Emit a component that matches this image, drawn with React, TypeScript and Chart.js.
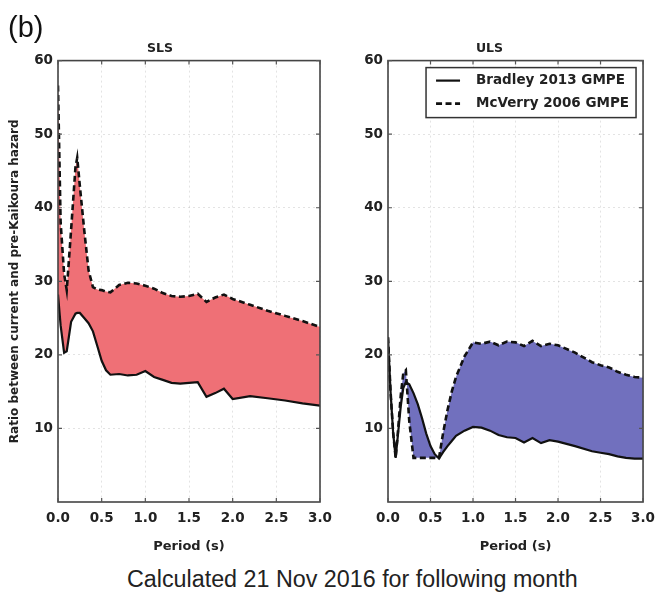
import React, { useEffect, useRef } from "react";
import { Chart, registerables } from "chart.js";
Chart.register(...registerables);

// ---------- data ----------
const slsPeriod = [0, 0.03, 0.07, 0.1, 0.15, 0.2, 0.22, 0.25, 0.3, 0.35, 0.4, 0.45, 0.5, 0.55, 0.6, 0.7, 0.8, 0.9, 1.0, 1.1, 1.2, 1.3, 1.4, 1.5, 1.6, 1.7, 1.8, 1.9, 2.0, 2.2, 2.4, 2.6, 2.8, 3.0];
const slsBradley = [28.2, 24, 20.3, 20.5, 24.5, 25.6, 25.7, 25.7, 25.0, 24.3, 23.2, 21.2, 19.2, 17.9, 17.3, 17.4, 17.2, 17.3, 17.8, 17.0, 16.6, 16.2, 16.1, 16.2, 16.3, 14.3, 14.8, 15.4, 14.0, 14.4, 14.1, 13.8, 13.4, 13.1];
const slsMcVerry = [56.6, 38, 31, 28.8, 37, 45.5, 46.8, 43, 37, 31.5, 29.2, 28.9, 28.8, 28.6, 28.5, 29.5, 29.8, 29.7, 29.4, 29.0, 28.4, 28.0, 27.9, 28.0, 28.3, 27.2, 27.8, 28.2, 27.6, 26.8, 26.0, 25.3, 24.6, 23.8];

const ulsPeriod = [0, 0.03, 0.06, 0.09, 0.12, 0.15, 0.18, 0.21, 0.25, 0.3, 0.35, 0.4, 0.45, 0.5, 0.55, 0.6, 0.65, 0.7, 0.75, 0.8, 0.9, 1.0, 1.1, 1.2, 1.3, 1.4, 1.5, 1.6, 1.7, 1.8, 1.9, 2.0, 2.2, 2.4, 2.5, 2.6, 2.7, 2.8, 2.9, 3.0];
const ulsBradley = [22.4, 15, 9.5, 6, 9.5, 13, 15.5, 16.3, 16.0, 14.8, 13.3, 11.4, 9.3, 7.6, 6.5, 5.9, 6.8, 7.6, 8.3, 9.0, 9.7, 10.2, 10.1, 9.7, 9.1, 8.8, 8.7, 8.1, 8.7, 8.0, 8.4, 8.2, 7.6, 6.9, 6.7, 6.5, 6.2, 6.0, 5.9, 5.9];
const ulsMcVerry = [22.4, 15, 9.5, 6, 10, 14.5, 17.5, 17.9, 11, 6.0, 6.0, 6.0, 6.0, 6.0, 6.0, 6.0, 9.5, 12.5, 15, 17.0, 19.8, 21.7, 21.5, 21.8, 21.3, 21.8, 21.7, 21.2, 21.9, 21.2, 21.5, 21.3, 20.3, 19.0, 18.6, 18.3, 17.7, 17.3, 17.0, 16.9];

const seriesLabels = ["Bradley 2013 GMPE", "McVerry 2006 GMPE"];
const panelTitles = ["SLS", "ULS"];
const xTicks = [0, 0.5, 1.0, 1.5, 2.0, 2.5, 3.0];
const yTicks = [10, 20, 30, 40, 50, 60];
const yLabel = "Ratio between current and pre-Kaikoura hazard";
const xLabel = "Period (s)";
const caption = "Calculated 21 Nov 2016 for following month";
const panelLabel = "(b)";

const FONT = '"DejaVu Sans", sans-serif';
const TEXT = "#222";

const framePlugin = {
  id: "frame",
  afterDatasetsDraw(chart: any) {
    const { ctx, chartArea: a, scales } = chart;
    ctx.save();
    ctx.setLineDash([]);
    ctx.strokeStyle = "#444";
    ctx.lineWidth = 1.6;
    ctx.strokeRect(a.left, a.top, a.right - a.left, a.bottom - a.top);
    ctx.lineWidth = 1.2;
    ctx.strokeStyle = "#555";
    ctx.beginPath();
    xTicks.forEach((t) => {
      const x = scales.x.getPixelForValue(t);
      ctx.moveTo(x, a.bottom);
      ctx.lineTo(x, a.bottom - 4);
      ctx.moveTo(x, a.top);
      ctx.lineTo(x, a.top + 4);
    });
    yTicks.forEach((t) => {
      const y = scales.y.getPixelForValue(t);
      ctx.moveTo(a.left, y);
      ctx.lineTo(a.left + 4, y);
      ctx.moveTo(a.right, y);
      ctx.lineTo(a.right - 4, y);
    });
    ctx.stroke();
    ctx.restore();
  },
};

const boxLegendPlugin = {
  id: "boxLegend",
  afterDraw(chart: any) {
    if (!chart.options.plugins.boxLegend?.show) return;
    const { ctx, chartArea: a } = chart;
    const w = 210;
    const h = 50;
    const x0 = a.right - 7 - w;
    const y0 = a.top + 7;
    ctx.save();
    ctx.fillStyle = "#fff";
    ctx.fillRect(x0, y0, w, h);
    ctx.strokeStyle = "#333";
    ctx.lineWidth = 1.5;
    ctx.setLineDash([]);
    ctx.strokeRect(x0, y0, w, h);
    chart.data.datasets.forEach((ds: any, i: number) => {
      const y = y0 + 13 + i * 23;
      ctx.setLineDash(ds.borderDash || []);
      ctx.lineWidth = ds.borderWidth;
      ctx.strokeStyle = ds.borderColor;
      ctx.beginPath();
      ctx.moveTo(x0 + 10, y);
      ctx.lineTo(x0 + 34, y);
      ctx.stroke();
      ctx.setLineDash([]);
      ctx.fillStyle = TEXT;
      ctx.font = `bold 13.5px ${FONT}`;
      ctx.textBaseline = "middle";
      ctx.textAlign = "left";
      ctx.fillText(ds.label, x0 + 50, y);
    });
    ctx.restore();
  },
};

function makeConfig(
  period: number[],
  bradley: number[],
  mcverry: number[],
  color: string,
  title: string,
  showYTitle: boolean,
  padRight: number,
  showLegend: boolean
): any {
  const tickFont = { family: FONT, size: 13.5, weight: "bold" };
  return {
    type: "line",
    data: {
      datasets: [
        {
          label: seriesLabels[0],
          data: period.map((p, i) => ({ x: p, y: bradley[i] })),
          borderColor: "#111",
          borderWidth: 2.2,
          pointRadius: 0,
          fill: "+1",
          backgroundColor: color,
          tension: 0,
        },
        {
          label: seriesLabels[1],
          data: period.map((p, i) => ({ x: p, y: mcverry[i] })),
          borderColor: "#111",
          borderWidth: 2.6,
          borderDash: [6, 3.5],
          pointRadius: 0,
          fill: false,
          tension: 0,
        },
      ],
    },
    options: {
      animation: false,
      responsive: false,
      maintainAspectRatio: false,
      layout: { padding: { top: 41.6, left: 0, right: padRight, bottom: 0 } },
      plugins: {
        legend: { display: false },
        tooltip: { enabled: false },
        filler: { drawTime: "beforeDatasetsDraw" },
        boxLegend: { show: showLegend },
        title: {
          display: true,
          text: title,
          color: TEXT,
          font: { family: FONT, size: 12.5, weight: "bold" },
          padding: { top: 0, bottom: 4 },
        },
      },
      scales: {
        x: {
          type: "linear",
          min: 0,
          max: 3,
          afterFit(s: any) {
            s.height = 58;
          },
          afterBuildTicks(s: any) {
            s.ticks = xTicks.map((v) => ({ value: v }));
          },
          ticks: {
            autoSkip: false,
            maxRotation: 0,
            padding: 8,
            color: TEXT,
            font: tickFont,
            callback: (v: any) => Number(v).toFixed(1),
          },
          grid: { color: "rgba(0,0,0,0.11)", drawTicks: false, lineWidth: 1 },
          border: { display: false, dash: [2, 3] },
          title: {
            display: true,
            text: xLabel,
            color: TEXT,
            font: { family: FONT, size: 13, weight: "bold" },
            padding: { top: 0, bottom: 6 },
          },
        },
        y: {
          type: "linear",
          min: 0,
          max: 60,
          afterFit(s: any) {
            s.width = 58;
          },
          afterBuildTicks(s: any) {
            s.ticks = yTicks.map((v) => ({ value: v }));
          },
          ticks: {
            padding: 5,
            color: TEXT,
            font: tickFont,
          },
          grid: { color: "rgba(0,0,0,0.11)", drawTicks: false, lineWidth: 1 },
          border: { display: false, dash: [2, 3] },
          title: {
            display: showYTitle,
            text: yLabel,
            color: TEXT,
            font: { family: FONT, size: 12, weight: "bold" },
            padding: { top: 8, bottom: 0 },
          },
        },
      },
    },
    plugins: [framePlugin, boxLegendPlugin],
  };
}

export default function App() {
  const leftRef = useRef<HTMLCanvasElement>(null);
  const rightRef = useRef<HTMLCanvasElement>(null);

  useEffect(() => {
    const c1 = new Chart(
      leftRef.current as HTMLCanvasElement,
      makeConfig(slsPeriod, slsBradley, slsMcVerry, "#EF7076", panelTitles[0], true, 20, false)
    );
    const c2 = new Chart(
      rightRef.current as HTMLCanvasElement,
      makeConfig(ulsPeriod, ulsBradley, ulsMcVerry, "#7170BE", panelTitles[1], false, 14, true)
    );
    return () => {
      c1.destroy();
      c2.destroy();
    };
  }, []);

  return (
    <div
      style={{
        position: "absolute",
        left: 0,
        top: 0,
        width: 663,
        height: 594,
        background: "#fff",
        overflow: "hidden",
      }}
    >
      <canvas
        ref={leftRef}
        width={340}
        height={560}
        style={{ position: "absolute", left: 0, top: 0, width: 340, height: 560 }}
      />
      <canvas
        ref={rightRef}
        width={333}
        height={560}
        style={{ position: "absolute", left: 330, top: 0, width: 333, height: 560 }}
      />
      <div
        style={{
          position: "absolute",
          left: 8,
          top: 13,
          fontFamily: '"Liberation Sans", Arial, sans-serif',
          fontSize: 29,
          lineHeight: 1,
          color: "#111",
        }}
      >
        {panelLabel}
      </div>
      <div
        style={{
          position: "absolute",
          left: 127,
          top: 568,
          fontFamily: '"Liberation Sans", Arial, sans-serif',
          fontSize: 23.3,
          lineHeight: 1,
          color: "#222",
          whiteSpace: "nowrap",
        }}
      >
        {caption}
      </div>
    </div>
  );
}
